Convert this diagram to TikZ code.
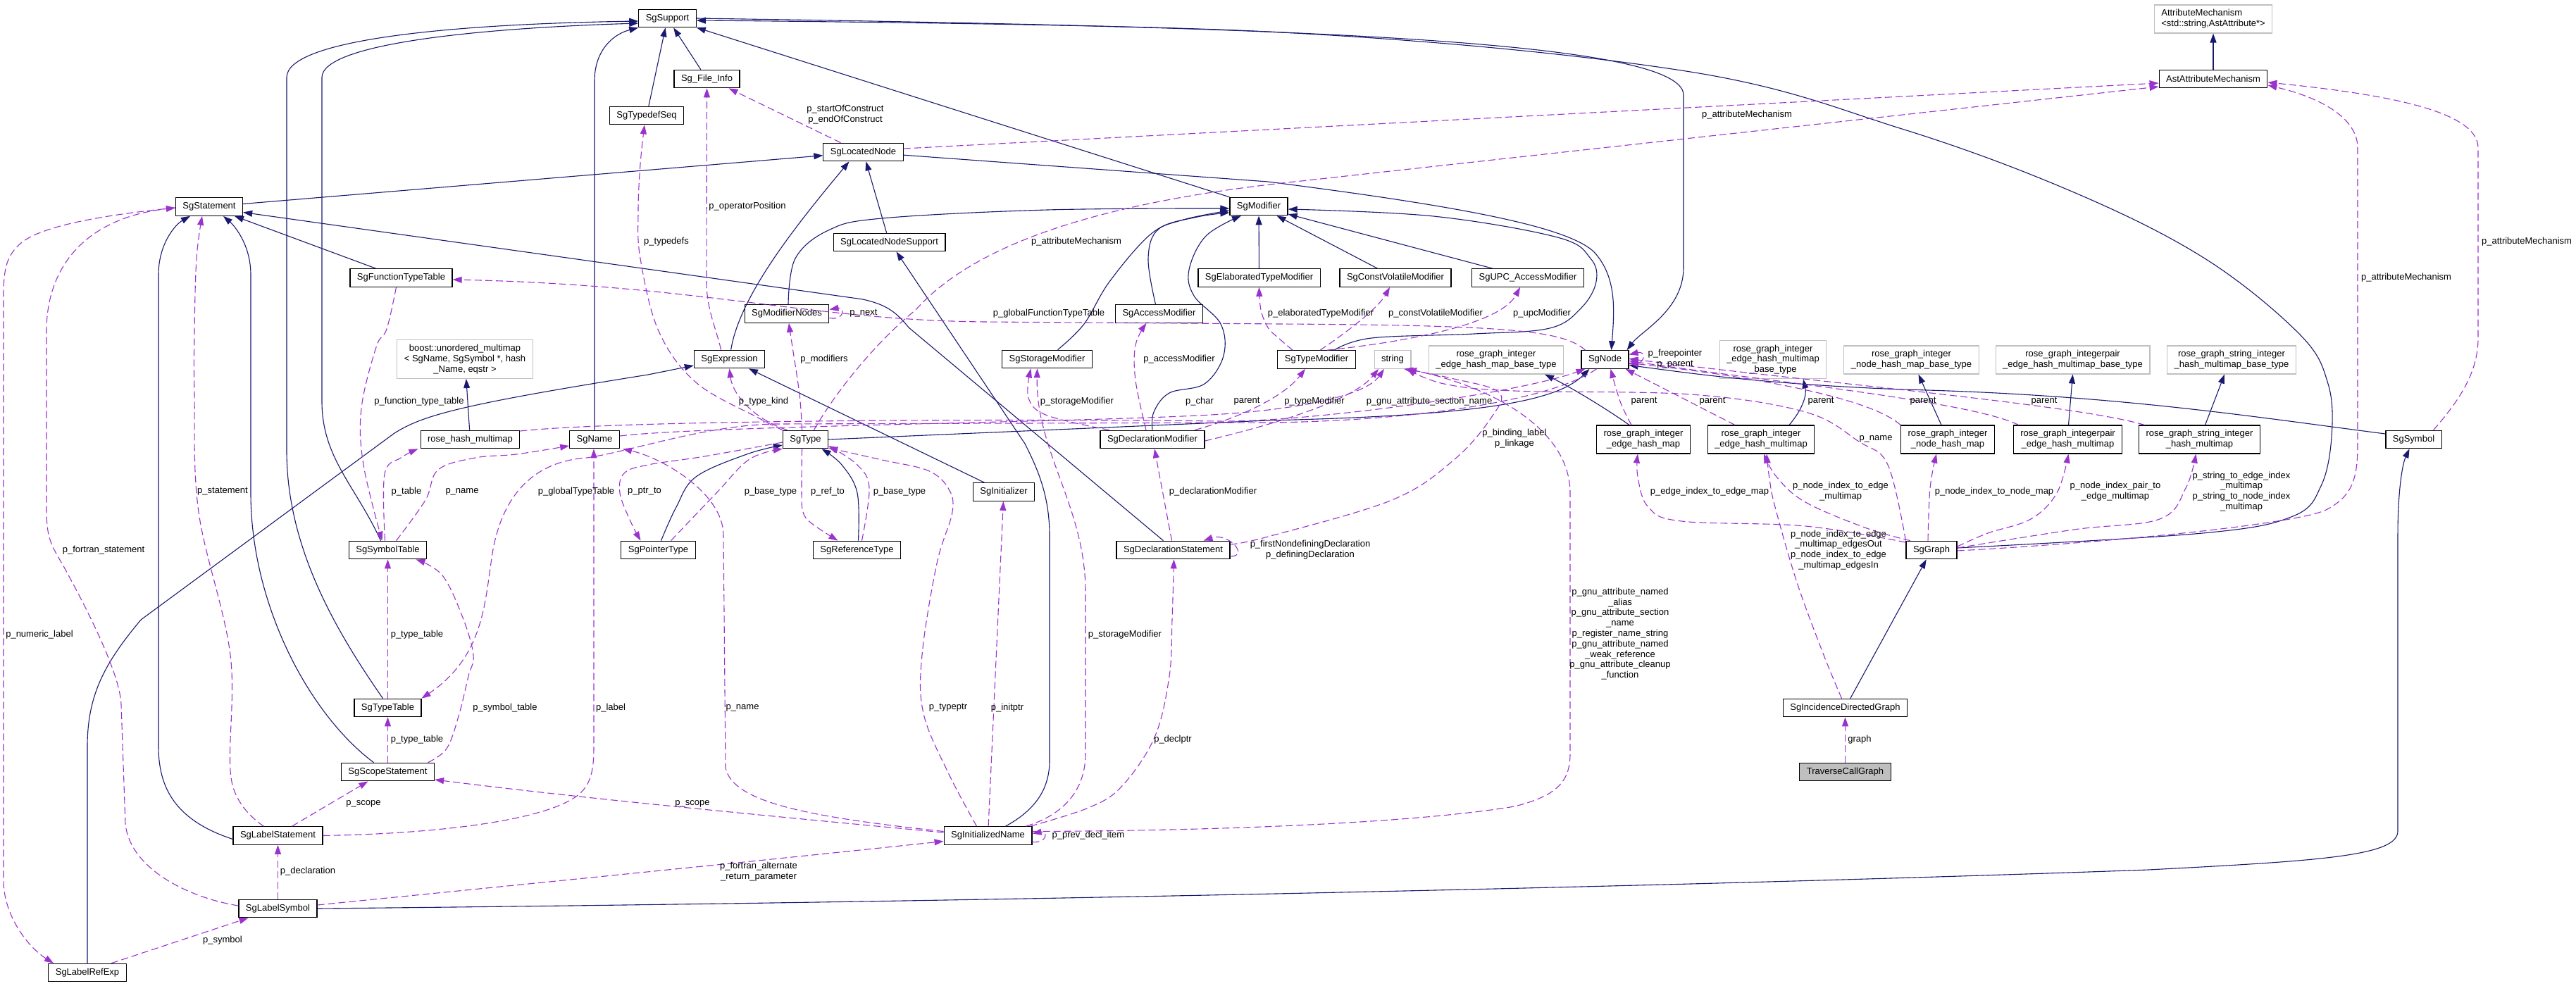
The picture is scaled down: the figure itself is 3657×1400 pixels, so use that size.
\documentclass[tikz,border=0pt]{standalone}
\usepackage{fontspec}
\setmainfont{Liberation Sans}
\usetikzlibrary{arrows.meta}

\definecolor{edgeblue}{RGB}{25,25,112}
\definecolor{edgepurple}{RGB}{154,50,205}
\definecolor{boxgray}{RGB}{191,191,191}

\begin{document}
\begin{tikzpicture}[
  x=1pt, y=-1pt,
  font=\fontsize{13}{14.8}\selectfont,
  cls/.style={draw, line width=1.2pt, fill=white, align=center, inner xsep=10pt, inner ysep=6.5pt, minimum height=25.5pt},
  ext/.style={cls, draw=boxgray},
  cur/.style={cls, fill=boxgray},
  inh/.style={draw=edgeblue, line width=1.1pt, -{Triangle[length=13pt, width=9pt]}},
  use/.style={draw=edgepurple, line width=1.1pt, dash pattern=on 10pt off 5pt, -{Triangle[length=13pt, width=9pt]}},
  lbl/.style={align=center, inner sep=0pt},
]
  \useasboundingbox (0,0) rectangle (3657,1400);

  \node[cls] (support) at (947.5,26) {SgSupport};
  \node[cls] (fileinfo) at (1003.5,112) {Sg\_File\_Info};
  \node[cls] (typedefseq) at (918,164) {SgTypedefSeq};
  \node[cls] (locnode) at (1225.5,216) {SgLocatedNode};
  \node[cls] (statement) at (297,293.5) {SgStatement};
  \node[cls] (modifier) at (1787,293) {SgModifier};
  \node[cls] (locsupport) at (1262.5,344) {SgLocatedNodeSupport};
  \node[cls] (functable) at (569.5,394.5) {SgFunctionTypeTable};
  \node[cls] (elabmod) at (1787.5,394.5) {SgElaboratedTypeModifier};
  \node[cls] (cvmod) at (1981,394.5) {SgConstVolatileModifier};
  \node[cls] (upcmod) at (2169,394.5) {SgUPC\_AccessModifier};
  \node[cls] (modnodes) at (1117,445.5) {SgModifierNodes};
  \node[cls] (accessmod) at (1645.5,445.5) {SgAccessModifier};
  \node[ext, align=left] (attrmech) at (3142,27) {AttributeMechanism\\<std::string,AstAttribute*>};
  \node[cls] (astattr) at (3142,112) {AstAttributeMechanism};
  \node[ext] (boostmap) at (660,510) {boost::unordered\_multimap\\< SgName, SgSymbol *, hash\\\_Name, eqstr >};
  \node[cls] (expression) at (1035.5,510) {SgExpression};
  \node[cls] (storagemod) at (1486.5,510) {SgStorageModifier};
  \node[cls] (typemod) at (1869,510.5) {SgTypeModifier};
  \node[ext] (str) at (1977,510.5) {string};
  \node[ext] (iemapbase) at (2124,511) {rose\_graph\_integer\\\_edge\_hash\_map\_base\_type};
  \node[cls] (sgnode) at (2278.5,510.5) {SgNode};
  \node[ext] (iemmapbase) at (2517,510.5) {rose\_graph\_integer\\\_edge\_hash\_multimap\\\_base\_type};
  \node[ext] (inmapbase) at (2713.5,511) {rose\_graph\_integer\\\_node\_hash\_map\_base\_type};
  \node[ext] (ipbase) at (2942.5,511) {rose\_graph\_integerpair\\\_edge\_hash\_multimap\_base\_type};
  \node[ext] (sibase) at (3168,511) {rose\_graph\_string\_integer\\\_hash\_multimap\_base\_type};
  \node[cls] (hashmap) at (667.5,624) {rose\_hash\_multimap};
  \node[cls] (sgname) at (844,624) {SgName};
  \node[cls] (sgtype) at (1143.5,624) {SgType};
  \node[cls] (declmod) at (1636,624) {SgDeclarationModifier};
  \node[cls] (iemap) at (2333,624) {rose\_graph\_integer\\\_edge\_hash\_map};
  \node[cls] (iemmap) at (2500,624) {rose\_graph\_integer\\\_edge\_hash\_multimap};
  \node[cls] (inmap) at (2765,624) {rose\_graph\_integer\\\_node\_hash\_map};
  \node[cls] (ipmap) at (2935.5,624) {rose\_graph\_integerpair\\\_edge\_hash\_multimap};
  \node[cls] (simap) at (3122.5,624) {rose\_graph\_string\_integer\\\_hash\_multimap};
  \node[cls] (symbol) at (3426.5,624) {SgSymbol};
  \node[cls] (initializer) at (1425,698.5) {SgInitializer};
  \node[cls] (symtable) at (550.5,781) {SgSymbolTable};
  \node[cls] (ptrtype) at (934.5,781) {SgPointerType};
  \node[cls] (reftype) at (1216.5,781) {SgReferenceType};
  \node[cls] (declstmt) at (1665.5,781) {SgDeclarationStatement};
  \node[cls] (graph) at (2742,781) {SgGraph};
  \node[cls] (typetable) at (550.5,1005) {SgTypeTable};
  \node[cls] (incgraph) at (2619.5,1005) {SgIncidenceDirectedGraph};
  \node[cls] (scopestmt) at (550.5,1096) {SgScopeStatement};
  \node[cur] (traverse) at (2619.5,1096) {TraverseCallGraph};
  \node[cls] (labelstmt) at (394.5,1186.5) {SgLabelStatement};
  \node[cls] (initname) at (1402.5,1186.5) {SgInitializedName};
  \node[cls] (labelsym) at (394.5,1290) {SgLabelSymbol};
  \node[cls] (labelref) at (124,1381) {SgLabelRefExp};

  % base classes
  \draw[inh] (typedefseq) -- (support);
  \draw[inh] (fileinfo) -- (support);
  \draw[inh] (sgname.north) -- (844,115) .. controls (844,70) and (872,48) .. (support.south west);
  \draw[inh] ([xshift=-7pt]typetable.north) .. controls (480,900) and (407,780) .. (407,640) -- (407,110) .. controls (407,55) and (650,34) .. ([yshift=-4pt]support.west);
  \draw[inh] ([xshift=-10pt]symtable.north) .. controls (505,690) and (457,650) .. (457,570) -- (457,110) .. controls (457,62) and (680,40) .. ([yshift=-7pt]support.west);
  \draw[inh] ([xshift=-20pt]scopestmt.north) .. controls (440,1015) and (356,860) .. (356,700) -- (356,390) .. controls (356,345) and (330,318) .. ([xshift=20pt]statement.south);
  \draw[inh] ([yshift=-5pt]labelstmt.west) .. controls (250,1165) and (225,1120) .. (225,1060) -- (225,390) .. controls (225,345) and (250,318) .. ([xshift=-27pt]statement.south);
  \draw[inh] (functable) -- (statement);
  \draw[inh] ([xshift=-14pt]declstmt.north) -- (1290,465) .. controls (1270,440) and (1255,432) .. (1225,425) -- ([yshift=-8pt]statement.east);
  \draw[inh] (statement) -- (locnode);
  \draw[inh] (expression) .. controls (1050,420) and (1130,320) .. ([xshift=-20pt]locnode.south);
  \draw[inh] (locsupport) -- (locnode);
  \draw[inh] ([xshift=25pt]initname.north) .. controls (1470,1150) and (1490,1120) .. (1490,1080) -- (1490,760) .. controls (1490,700) and (1470,660) .. (1455,630) -- ([xshift=10pt]locsupport.south);
  \draw[inh] (modifier) -- (support);
  \draw[inh] (locnode) -- (1800,258) .. controls (2050,290) and (2230,320) .. (2265,360) .. controls (2295,395) and (2292,440) .. ([xshift=9pt]sgnode.north);
  \draw[inh] (support.east) .. controls (1800,38) and (2390,55) .. (2390,135) -- (2390,380) .. controls (2390,440) and (2330,470) .. ([xshift=-3pt]sgnode.north east);
  \draw[inh] plot[smooth, tension=.6] coordinates {([yshift=3pt]graph.east) (3127,757) (3255,733) (3295,690) (3310,620) (3305,545) (3265,475) (3130,367) (2944,273) (2700,183) (2387,100) (1800,45) ([yshift=-3pt]support.east)};
  \draw[inh] plot[smooth, tension=.6] coordinates {([xshift=2pt]modnodes.north) (1129,367) (1176,327) (1252,310) (1487,298) ([yshift=-3pt]modifier.west)};
  \draw[inh] plot[smooth, tension=.6] coordinates {([xshift=15pt]storagemod.north) (1539,460) (1575,400) (1633,333) (1680,312) ([yshift=-6pt]modifier.west)};
  \draw[inh] plot[smooth, tension=.6] coordinates {([xshift=-5pt]accessmod.north) (1630,367) (1645,325) (1700,308) ([yshift=-9pt]modifier.west)};
  \draw[inh] plot[smooth, tension=.6] coordinates {(declmod.north) (1638,585) (1660,558) (1710,545) (1737,505) (1733,460) (1695,420) (1688,383) (1712,335) ([xshift=-25pt]modifier.south)};
  \draw[inh] (elabmod) -- (modifier);
  \draw[inh] (cvmod) -- (modifier);
  \draw[inh] (upcmod) -- (modifier);
  \draw[inh] plot[smooth, tension=.6] coordinates {([xshift=25pt]typemod.north) (1947,480) (2093,474) (2200,466) (2245,437) (2266,400) (2258,367) (2211,337) (2035,307) ([yshift=-4pt]modifier.east)};
  \draw[inh] plot[smooth, tension=.6] coordinates {([xshift=4pt]ptrtype.north) (960,720) (988,677) (1060,645) ([yshift=-8pt]sgtype.west)};
  \draw[inh] plot[smooth, tension=.6] coordinates {([xshift=2pt]reftype.north) (1217,700) (1195,660) ([xshift=23pt]sgtype.south)};
  \draw[inh] (initializer) -- (expression);
  \draw[inh] (labelref.north) -- (124,1060) .. controls (124,985) and (150,940) .. (200,880) -- (560,615) .. controls (600,590) and (650,575) .. (920,532) -- ([yshift=-9pt]expression.west);
  \draw[inh] (sgtype.east) -- (1800,597) .. controls (2100,590) and (2210,570) .. ([xshift=-22pt]sgnode.south);
  \draw[inh] ([yshift=8pt]symbol.west) .. controls (3200,592) and (3000,560) .. (2700,553) .. controls (2500,545) and (2400,530) .. ([yshift=-8pt]sgnode.east);
  \draw[inh] (labelsym.east) .. controls (1500,1280) and (2500,1255) .. (3050,1235) .. controls (3300,1222) and (3404,1215) .. (3404,1180) -- (3404,760) .. controls (3404,700) and (3410,660) .. ([xshift=-6pt]symbol.south);
  \draw[inh] (incgraph) -- (graph);
  \draw[inh] (astattr) -- (attrmech);
  \draw[inh] (hashmap) -- (boostmap);
  \draw[inh] ([xshift=-20pt]iemap.north) .. controls (2280,580) and (2230,550) .. ([xshift=69pt]iemapbase.south);
  \draw[inh] ([xshift=40pt]iemmap.north) .. controls (2560,580) and (2565,560) .. ([xshift=43pt]iemmapbase.south);
  \draw[inh] ([xshift=-9pt]inmap.north) -- ([xshift=10pt]inmapbase.south);
  \draw[inh] ([xshift=1pt]ipmap.north) -- (ipbase.south);
  \draw[inh] ([xshift=8pt]simap.north) -- ([xshift=-10pt]sibase.south);

  % members
  \draw[use] ([xshift=-32pt]locnode.north) -- ([xshift=31pt]fileinfo.south);
  \draw[use] ([xshift=-12pt]expression.north) .. controls (1018,470) and (1003,440) .. (1003,400) -- (fileinfo.south);
  \draw[use] plot[smooth, tension=.6] coordinates {(sgtype.north west) (1076,593) (988,543) (935,470) (909,367) (906,300) (909,233) ([xshift=-3pt]typedefseq.south)};
  \draw[use] ([yshift=5pt]locnode.east) -- ([yshift=-6pt]astattr.west);
  \draw[use] ([xshift=12pt]sgtype.north) .. controls (1190,550) and (1250,480) .. (1300,440) .. controls (1380,350) and (1550,290) .. (1820,260) -- ([yshift=-11pt]astattr.west);
  \draw[use] ([yshift=-1pt]graph.east) .. controls (3000,770) and (3250,745) .. (3300,725) .. controls (3340,705) and (3347,680) .. (3347,630) -- (3347,210) .. controls (3347,170) and (3300,140) .. ([yshift=-9pt]astattr.east);
  \draw[use] ([xshift=28pt]symbol.north) .. controls (3490,570) and (3518,530) .. (3518,480) -- (3518,210) .. controls (3518,160) and (3400,135) .. ([yshift=-5pt]astattr.east);
  \draw[use] ([xshift=-28pt]sgnode.north) .. controls (2220,470) and (2150,462) .. (1820,460) -- (1400,457) .. controls (1150,455) and (1000,405) .. ([yshift=-2.5pt]functable.east);
  \draw[use] plot[smooth, tension=.6] coordinates {([xshift=-7pt]functable.south) (549,467) (534,493) (513,580) (516,660) ([xshift=-8pt]symtable.north)};
  \draw[use] plot[smooth, tension=.6] coordinates {([xshift=-20pt]labelstmt.north) (329,1110) (327,930) (282,727) (276,560) (276,470) (279,367) ([xshift=-10pt]statement.south)};
  \draw[use] ([yshift=4pt]labelsym.west) .. controls (270,1275) and (185,1235) .. (178,1170) -- (172,1000) .. controls (170,950) and (110,840) .. (88,800) .. controls (70,770) and (66,760) .. (66,720) -- (66,470) .. controls (66,380) and (120,310) .. ([yshift=-1.5pt]statement.west);
  \draw[use] ([yshift=-1.5pt]statement.west) .. controls (150,305) and (60,320) .. (30,345) .. controls (10,362) and (5,380) .. (5,420) -- (5,1250) .. controls (5,1300) and (40,1345) .. ([xshift=-48pt]labelref.north);
  \draw[use] ([xshift=34pt]labelref.north) -- ([xshift=-42pt]labelsym.south);
  \draw[use] (labelsym) -- (labelstmt);
  \draw[use] ([xshift=20pt]labelstmt.north) -- ([xshift=-28pt]scopestmt.south);
  \draw[use] ([yshift=4.5pt]initname.west) .. controls (1000,1150) and (800,1130) .. ([yshift=-11pt]scopestmt.east);
  \draw[use] ([yshift=5pt]labelsym.east) .. controls (800,1250) and (1100,1220) .. ([yshift=-8pt]initname.west);
  \draw[use] (labelstmt.east) .. controls (650,1183) and (790,1160) .. (825,1125) .. controls (840,1110) and (843,1090) .. (843,1060) -- ([xshift=-1pt]sgname.south);
  \draw[use] plot[smooth, tension=.6] coordinates {([xshift=57pt]scopestmt.north) (634,1063) (651,1017) (665,960) (672,930) (657,877) (628,817) ([xshift=40pt]symtable.south)};
  \draw[use] (scopestmt) -- (typetable);
  \draw[use] (typetable) -- (symtable);
  \draw[use] ([xshift=-12pt]sgnode.south) .. controls (2200,570) and (2000,598) .. (1800,600) -- (1100,602) .. controls (1000,604) and (900,640) .. (833,650) .. controls (760,655) and (715,700) .. (700,780) .. controls (688,850) and (690,930) .. ([xshift=48pt]typetable.north);
  \draw[use] plot[smooth, tension=.6] coordinates {([xshift=-4pt]symtable.north) (546,673) (569,650) ([xshift=-74pt]hashmap.south)};
  \draw[use] plot[smooth, tension=.6] coordinates {([xshift=12pt]symtable.north) (604,710) (622,667) (675,650) (733,645) ([yshift=-9pt]sgname.west)};
  \draw[use] plot[smooth, tension=.6] coordinates {([yshift=-4pt]sgtype.west) (1000,648) (920,660) (886,672) (880,700) (895,740) ([xshift=-25pt]ptrtype.north)};
  \draw[use] plot[smooth, tension=.6] coordinates {([xshift=18pt]ptrtype.north) (1017,700) (1064,652) (sgtype.south west)};
  \draw[use] plot[smooth, tension=.6] coordinates {([xshift=-5pt]sgtype.south) (1138,700) (1140,727) (1152,743) ([xshift=-27pt]reftype.north)};
  \draw[use] plot[smooth, tension=.6] coordinates {([xshift=7pt]reftype.north) (1234,693) (1217,660) ([yshift=-9pt]sgtype.east)};
  \draw[use] plot[smooth, tension=.6] coordinates {([xshift=-16pt]initname.north) (1346,1097) (1311,1013) (1309,930) (1330,800) (1352,727) (1346,693) (1317,668) (1252,653) ([yshift=-12pt]sgtype.east)};
  \draw[use] (initname) -- (initializer);
  \draw[use] plot[smooth, tension=.6] coordinates {([xshift=60pt]initname.north) (1545,1147) (1592,1117) (1639,1047) (1660,960) (1664,880) ([xshift=1pt]declstmt.south)};
  \draw[use] ([yshift=6pt]initname.west) .. controls (1150,1160) and (1040,1140) .. (1030,1090) -- (1027,760) .. controls (1027,700) and (940,650) .. ([xshift=40pt]sgname.south);
  \draw[use] ([xshift=54pt]initname.north) .. controls (1500,1160) and (1541,1130) .. (1541,1070) -- (1541,840) .. controls (1541,720) and (1470,640) .. ([xshift=-14pt]storagemod.south);
  \draw[use] plot[smooth, tension=.6] coordinates {([xshift=-61pt]declmod.north) (1487,590) (1460,565) ([xshift=-23pt]storagemod.south)};
  \draw[use] plot[smooth, tension=.6] coordinates {([xshift=-9pt]declmod.north) (1612,540) (1612,490) ([xshift=-18pt]accessmod.south)};
  \draw[use] ([xshift=60pt]declmod.north) .. controls (1770,590) and (1825,560) .. ([xshift=-16pt]typemod.south);
  \draw[use] ([yshift=-2pt]declmod.east) .. controls (1800,605) and (1920,570) .. ([xshift=-20pt]str.south);
  \draw[use] ([yshift=5pt]sgname.east) .. controls (1000,605) and (1500,600) .. (1700,590) .. controls (1850,583) and (1940,560) .. ([xshift=-12pt]str.south);
  \draw[use] ([yshift=12pt]hashmap.east) .. controls (900,595) and (1500,595) .. (1730,598) .. controls (1850,600) and (2150,560) .. ([xshift=-28pt]sgnode.south);
  \draw[use] ([yshift=-6pt]sgnode.east) .. controls +(25pt,-4pt) and +(25pt,6pt) .. ([yshift=7pt]sgnode.east);
  \draw[use] plot[smooth, tension=.6] coordinates {([yshift=8pt]declstmt.east) (1800,762) (1976,710) (2064,653) (2117,593) (2128,557) (2060,537) ([xshift=16pt]str.south)};
  \draw[use] ([xshift=-2pt]declstmt.north) -- ([xshift=3pt]declmod.south);
  \draw[use] ([yshift=-9pt]declstmt.east) .. controls +(28pt,0pt) and +(35pt,12pt) .. ([xshift=-38pt]declstmt.north east);
  \draw[use] ([yshift=-9pt]initname.east) .. controls +(22pt,-2pt) and +(22pt,4pt) .. ([yshift=3pt]initname.east);
  \draw[use] ([yshift=6pt]initname.east) .. controls (1700,1180) and (2000,1170) .. (2150,1145) .. controls (2210,1130) and (2229,1110) .. (2229,1070) -- (2229,700) .. controls (2229,610) and (2120,550) .. ([xshift=21pt]str.south);
  \draw[use] plot[smooth, tension=.6] coordinates {([xshift=-17pt]iemap.north) (2300,570) ([xshift=8pt]sgnode.south)};
  \draw[use] ([xshift=-37pt]iemmap.north) -- ([xshift=-5pt]sgnode.south east);
  \draw[use] (inmap.north west) .. controls (2650,560) and (2450,530) .. ([yshift=-5pt]sgnode.east);
  \draw[use] ([xshift=-70pt]ipmap.north) .. controls (2800,570) and (2500,540) .. ([yshift=-2pt]sgnode.east);
  \draw[use] ([xshift=-78pt]simap.north) .. controls (2950,575) and (2600,545) .. ([yshift=1pt]sgnode.east);
  \draw[use] plot[smooth, tension=.6] coordinates {(graph.north west) (2680,660) (2639,627) (2563,585) (2400,560) (2150,555) (2050,545) ([xshift=20pt]str.south)};
  \draw[use] plot[smooth, tension=.6] coordinates {([yshift=11pt]graph.west) (2563,747) (2387,740) (2340,720) (2325,677) ([xshift=-8pt]iemap.south)};
  \draw[use] plot[smooth, tension=.6] coordinates {([xshift=-30pt]graph.north) (2650,750) (2563,713) (2522,677) ([xshift=4pt]iemmap.south)};
  \draw[use] plot[smooth, tension=.6] coordinates {([xshift=-5pt]incgraph.north) (2589,930) (2551,827) (2520,720) (2512,680) ([xshift=8pt]iemmap.south)};
  \draw[use] plot[smooth, tension=.6] coordinates {([xshift=-5pt]graph.north) (2740,693) ([xshift=-16pt]inmap.south)};
  \draw[use] plot[smooth, tension=.6] coordinates {([yshift=5pt]graph.east) (2822,757) (2883,737) (2920,700) ([xshift=1pt]ipmap.south)};
  \draw[use] plot[smooth, tension=.6] coordinates {([yshift=3pt]graph.east) (2944,752) (3066,737) (3103,693) ([xshift=-5pt]simap.south)};
  \draw[use] (traverse) -- (incgraph);
  \draw[use] ([yshift=-6pt]modnodes.east) .. controls +(22pt,-4pt) and +(22pt,4pt) .. ([yshift=6pt]modnodes.east);
  \draw[use] plot[smooth, tension=.6] coordinates {([xshift=-5pt]sgtype.north) (1135,560) (1123,480) ([xshift=3pt]modnodes.south)};
  \draw[use] ([xshift=-26pt]sgtype.north) .. controls (1070,595) and (1040,560) .. (expression.south);
  \draw[use] plot[smooth, tension=.6] coordinates {([xshift=-34pt]typemod.north) (1815,480) (1800,465) (1790,440) (elabmod.south)};
  \draw[use] ([xshift=5pt]typemod.north) .. controls (1900,480) and (1955,440) .. ([xshift=-8pt]cvmod.south);
  \draw[use] ([xshift=15pt]typemod.north) .. controls (2000,485) and (2130,460) .. ([xshift=-11pt]upcmod.south);

  \node[lbl] (lbConstruct) at (1200,163) {p\_startOfConstruct\\p\_endOfConstruct};
  \node[lbl] (lbOperator) at (1061,293) {p\_operatorPosition};
  \node[lbl] (lbTypedefs) at (946,343) {p\_typedefs};
  \node[lbl] (lbAttrA) at (2480,163) {p\_attributeMechanism};
  \node[lbl] (lbAttrB) at (1528,343) {p\_attributeMechanism};
  \node[lbl] (lbAttrC) at (3416,394) {p\_attributeMechanism};
  \node[lbl] (lbAttrD) at (3587,343) {p\_attributeMechanism};
  \node[lbl] (lbGlobalFunc) at (1489,445) {p\_globalFunctionTypeTable};
  \node[lbl] (lbFuncTable) at (595,570) {p\_function\_type\_table};
  \node[lbl] (lbStatement) at (316,698) {p\_statement};
  \node[lbl] (lbFortranStmt) at (147,781) {p\_fortran\_statement};
  \node[lbl] (lbNumLabel) at (56,901) {p\_numeric\_label};
  \node[lbl] (lbSymbol) at (316,1335) {p\_symbol};
  \node[lbl] (lbDeclaration) at (437,1237) {p\_declaration};
  \node[lbl] (lbScopeA) at (516,1141) {p\_scope};
  \node[lbl] (lbScopeB) at (983,1141) {p\_scope};
  \node[lbl] (lbLabel) at (867,1005) {p\_label};
  \node[lbl] (lbSymTable) at (717,1005) {p\_symbol\_table};
  \node[lbl] (lbTypeTableA) at (592,1050) {p\_type\_table};
  \node[lbl] (lbTypeTableB) at (592,901) {p\_type\_table};
  \node[lbl] (lbGlobalType) at (818,698) {p\_globalTypeTable};
  \node[lbl] (lbTable) at (577,698) {p\_table};
  \node[lbl] (lbNameA) at (656,698) {p\_name};
  \node[lbl] (lbPtrTo) at (915,698) {p\_ptr\_to};
  \node[lbl] (lbBaseA) at (1094,698) {p\_base\_type};
  \node[lbl] (lbRefTo) at (1175,698) {p\_ref\_to};
  \node[lbl] (lbBaseB) at (1277,698) {p\_base\_type};
  \node[lbl] (lbTypeptr) at (1346,1005) {p\_typeptr};
  \node[lbl] (lbInitptr) at (1430,1005) {p\_initptr};
  \node[lbl] (lbDeclptr) at (1665,1050) {p\_declptr};
  \node[lbl] (lbNameB) at (1054,1005) {p\_name};
  \node[lbl] (lbStorageA) at (1597,901) {p\_storageModifier};
  \node[lbl] (lbStorageB) at (1529,570) {p\_storageModifier};
  \node[lbl] (lbAccess) at (1674,510) {p\_accessModifier};
  \node[lbl] (lbTypeMod) at (1866,570) {p\_typeModifier};
  \node[lbl] (lbSection) at (2029,570) {p\_gnu\_attribute\_section\_name};
  \node[lbl] (lbChar) at (1703,570) {p\_char};
  \node[lbl] (lbParentA) at (1770,570) {parent};
  \node[lbl] (lbFreeptr) at (2378,510) {p\_freepointer\\p\_parent};
  \node[lbl] (lbBinding) at (2150,623) {p\_binding\_label\\p\_linkage};
  \node[lbl] (lbDeclMod) at (1722,698) {p\_declarationModifier};
  \node[lbl] (lbDefining) at (1860,781) {p\_firstNondefiningDeclaration\\p\_definingDeclaration};
  \node[lbl] (lbPrevDecl) at (1545,1186) {p\_prev\_decl\_item};
  \node[lbl] (lbGnu) at (2300,900) {p\_gnu\_attribute\_named\\\_alias\\p\_gnu\_attribute\_section\\\_name\\p\_register\_name\_string\\p\_gnu\_attribute\_named\\\_weak\_reference\\p\_gnu\_attribute\_cleanup\\\_function};
  \node[lbl] (lbParentB) at (2334,570) {parent};
  \node[lbl] (lbParentC) at (2431,570) {parent};
  \node[lbl] (lbParentD) at (2585,570) {parent};
  \node[lbl] (lbParentE) at (2730,570) {parent};
  \node[lbl] (lbParentF) at (2902,570) {parent};
  \node[lbl] (lbNameC) at (2663,623) {p\_name};
  \node[lbl] (lbEdgeMap) at (2427,698) {p\_edge\_index\_to\_edge\_map};
  \node[lbl] (lbEdgeMulti) at (2613,698) {p\_node\_index\_to\_edge\\\_multimap};
  \node[lbl] (lbEdgesInOut) at (2610,781) {p\_node\_index\_to\_edge\\\_multimap\_edgesOut\\p\_node\_index\_to\_edge\\\_multimap\_edgesIn};
  \node[lbl] (lbNodeMap) at (2831,698) {p\_node\_index\_to\_node\_map};
  \node[lbl] (lbPairMap) at (3003,698) {p\_node\_index\_pair\_to\\\_edge\_multimap};
  \node[lbl] (lbStringMap) at (3182,698) {p\_string\_to\_edge\_index\\\_multimap\\p\_string\_to\_node\_index\\\_multimap};
  \node[lbl] (lbGraph) at (2640,1050) {graph};
  \node[lbl] (lbNext) at (1226,445) {p\_next};
  \node[lbl] (lbModifiers) at (1170,510) {p\_modifiers};
  \node[lbl] (lbTypeKind) at (1084,570) {p\_type\_kind};
  \node[lbl] (lbElab) at (1875,445) {p\_elaboratedTypeModifier};
  \node[lbl] (lbConstVol) at (2038,445) {p\_constVolatileModifier};
  \node[lbl] (lbUpc) at (2189,445) {p\_upcModifier};
  \node[lbl] (lbAltReturn) at (1077,1238) {p\_fortran\_alternate\\\_return\_parameter};
\end{tikzpicture}
\end{document}
